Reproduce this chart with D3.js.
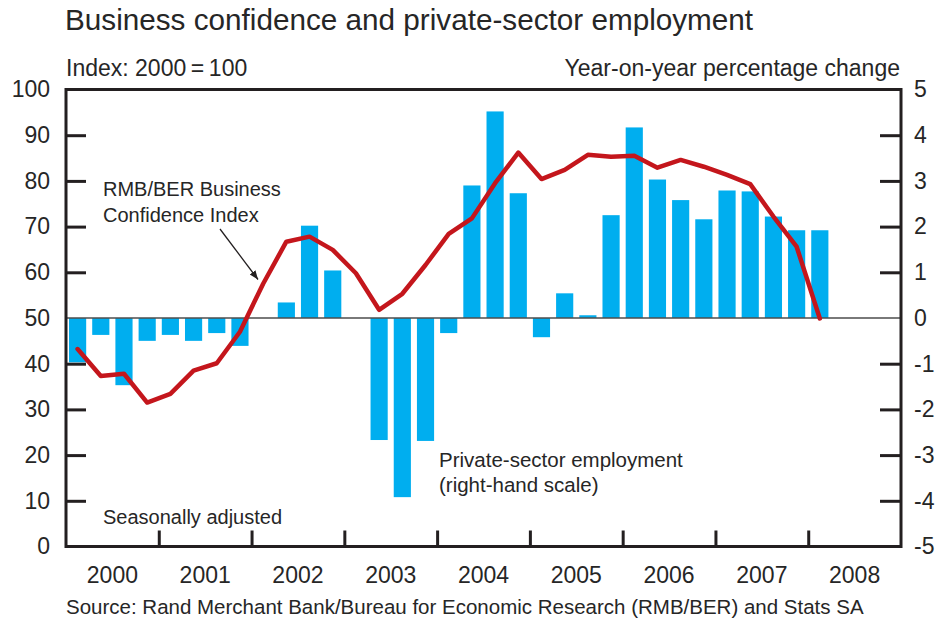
<!DOCTYPE html>
<html>
<head>
<meta charset="utf-8">
<script src="https://cdn.jsdelivr.net/npm/d3@7/dist/d3.min.js"></script>
<style>
  html, body { margin: 0; padding: 0; background: #fff; }
  svg { display: block; }
  text { font-family: "Liberation Sans", Arial, sans-serif; fill: #262626; }
</style>
</head>
<body>
<svg id="chart" width="942" height="618"></svg>
<script>
// Calendar years on the horizontal axis
const years = ["2000", "2001", "2002", "2003", "2004", "2005", "2006", "2007", "2008"];
const quarterNames = ["Q1", "Q2", "Q3", "Q4"];

// Private-sector employment, year-on-year % change (right-hand scale), 2000Q1 - 2008Q1
const employment = [
  -0.97, -0.37, -1.47, -0.50,
  -0.37, -0.50, -0.33, -0.61,
   0.00,  0.34,  2.02,  1.04,
   0.00, -2.67, -3.92, -2.69,
  -0.33,  2.90,  4.52,  2.73,
  -0.42,  0.54,  0.06,  2.25,
   4.17,  3.03,  2.58,  2.16,
   2.79,  2.77,  2.22,  1.92,
   1.92
];

// RMB/BER Business Confidence Index (left-hand scale), 2000Q1 - 2008Q1
const confidence = [
  43.2, 37.3, 37.8, 31.5,
  33.4, 38.5, 40.1, 47.0,
  57.5, 66.7, 67.8, 64.9,
  59.8, 51.8, 55.3, 61.6,
  68.4, 71.8, 79.5, 86.2,
  80.4, 82.4, 85.7, 85.3,
  85.5, 82.9, 84.6, 83.1,
  81.3, 79.3, 72.2, 65.6,
  49.9
];

// Axis tick values
const leftTicks = [0, 10, 20, 30, 40, 50, 60, 70, 80, 90, 100];
const rightTicks = [-5, -4, -3, -2, -1, 0, 1, 2, 3, 4, 5];

const quarters = years.flatMap(y => quarterNames.map(q => y + q));

const svg = d3.select("#chart");
const ink = "#231f20";
const plotLeft = 66, plotRight = 901, plotTop = 89.5, plotBottom = 546.5;

const x = d3.scaleBand().domain(quarters).range([plotLeft, plotRight]).paddingInner(0).paddingOuter(0);
const xYear = d3.scaleBand().domain(years).range([plotLeft, plotRight]);
const xYearEdge = d3.scaleLinear().domain([2000, 2009]).range([plotLeft, plotRight]);
const yL = d3.scaleLinear().domain([0, 100]).range([plotBottom, plotTop]);
const yR = d3.scaleLinear().domain([-5, 5]).range([plotBottom, plotTop]);

// Title and unit captions
svg.append("text").attr("x", 65).attr("y", 30)
  .style("font-size", "29.7px").text("Business confidence and private-sector employment");
svg.append("text").attr("x", 66).attr("y", 76)
  .style("font-size", "23px").text("Index: 2000\u2009=\u2009100");
svg.append("text").attr("x", 900).attr("y", 76).attr("text-anchor", "end")
  .style("font-size", "23px").text("Year-on-year percentage change");

// Employment bars
const barW = x.bandwidth() * 0.74;
svg.append("g").selectAll("rect")
  .data(employment)
  .join("rect")
  .attr("x", (d, i) => x(quarters[i]) + (x.bandwidth() - barW) / 2)
  .attr("width", barW)
  .attr("y", d => yR(Math.max(0, d)))
  .attr("height", d => Math.abs(yR(d) - yR(0)))
  .attr("fill", "#00aeef");

// Zero line shared by both scales
svg.append("line")
  .attr("x1", plotLeft).attr("x2", plotRight)
  .attr("y1", yR(0)).attr("y2", yR(0))
  .attr("stroke", "#4d4d4d").attr("stroke-width", 1.5);

// Left axis
const gL = svg.append("g").attr("transform", `translate(${plotLeft},0)`)
  .call(d3.axisLeft(yL).tickValues(leftTicks).tickSizeInner(-20).tickSizeOuter(0).tickPadding(16));
gL.select(".domain").remove();
gL.selectAll(".tick line").attr("stroke", ink).attr("stroke-width", 3)
  .filter(d => d === 0 || d === 50 || d === 100).remove();
gL.selectAll(".tick text").style("font-size", "23px").attr("fill", "#262626")
  .style("font-family", "Liberation Sans, Arial, sans-serif");

// Right axis (plain hyphen for negative labels)
const gR = svg.append("g").attr("transform", `translate(${plotRight},0)`)
  .call(d3.axisRight(yR).tickValues(rightTicks).tickFormat(d => String(d))
    .tickSizeInner(-21).tickSizeOuter(0).tickPadding(13));
gR.select(".domain").remove();
gR.selectAll(".tick line").attr("stroke", ink).attr("stroke-width", 3)
  .filter(d => d === -5 || d === 0 || d === 5).remove();
gR.selectAll(".tick text").style("font-size", "23px").attr("fill", "#262626")
  .style("font-family", "Liberation Sans, Arial, sans-serif");

// Year boundary ticks
const gT = svg.append("g").attr("transform", `translate(0,${plotBottom})`)
  .call(d3.axisBottom(xYearEdge).tickValues(d3.range(2001, 2009)).tickSize(-16).tickFormat(""));
gT.select(".domain").remove();
gT.selectAll(".tick line").attr("stroke", ink).attr("stroke-width", 3);

// Year labels centred in each year
const gY = svg.append("g").attr("transform", `translate(0,${plotBottom})`)
  .call(d3.axisBottom(xYear).tickSize(0).tickPadding(20));
gY.select(".domain").remove();
gY.selectAll(".tick text").style("font-size", "23px").attr("fill", "#262626")
  .style("font-family", "Liberation Sans, Arial, sans-serif");

// Business confidence line
const line = d3.line()
  .x((d, i) => x(quarters[i]) + x.bandwidth() / 2)
  .y(d => yL(d));
svg.append("path")
  .datum(confidence)
  .attr("d", line)
  .attr("fill", "none")
  .attr("stroke", "#c4161c")
  .attr("stroke-width", 4.5)
  .attr("stroke-linejoin", "round")
  .attr("stroke-linecap", "round");

// Plot frame
svg.append("rect")
  .attr("x", plotLeft).attr("y", plotTop)
  .attr("width", plotRight - plotLeft).attr("height", plotBottom - plotTop)
  .attr("fill", "none").attr("stroke", ink).attr("stroke-width", 3);

// Annotations
svg.append("defs").append("marker")
  .attr("id", "arrowhead").attr("viewBox", "0 0 10 10")
  .attr("refX", 10).attr("refY", 5)
  .attr("markerWidth", 9).attr("markerHeight", 9)
  .attr("markerUnits", "userSpaceOnUse")
  .attr("orient", "auto")
  .append("path").attr("d", "M0,1 L10,5 L0,9 Z").attr("fill", ink);

const note1 = svg.append("text").attr("x", 103).attr("y", 196).style("font-size", "20px");
note1.append("tspan").attr("x", 103).text("RMB/BER Business");
note1.append("tspan").attr("x", 103).attr("dy", 25.5).text("Confidence Index");
svg.append("line")
  .attr("x1", 220).attr("y1", 229).attr("x2", 258).attr("y2", 279.5)
  .attr("stroke", ink).attr("stroke-width", 1.3)
  .attr("marker-end", "url(#arrowhead)");

const note2 = svg.append("text").attr("x", 439).attr("y", 467).style("font-size", "20.5px");
note2.append("tspan").attr("x", 439).text("Private-sector employment");
note2.append("tspan").attr("x", 439).attr("dy", 25).text("(right-hand scale)");

svg.append("text").attr("x", 103).attr("y", 524).style("font-size", "20px")
  .text("Seasonally adjusted");

// Source line
svg.append("text").attr("x", 66).attr("y", 614).style("font-size", "20.5px")
  .text("Source: Rand Merchant Bank/Bureau for Economic Research (RMB/BER) and Stats SA");
</script>
</body>
</html>
